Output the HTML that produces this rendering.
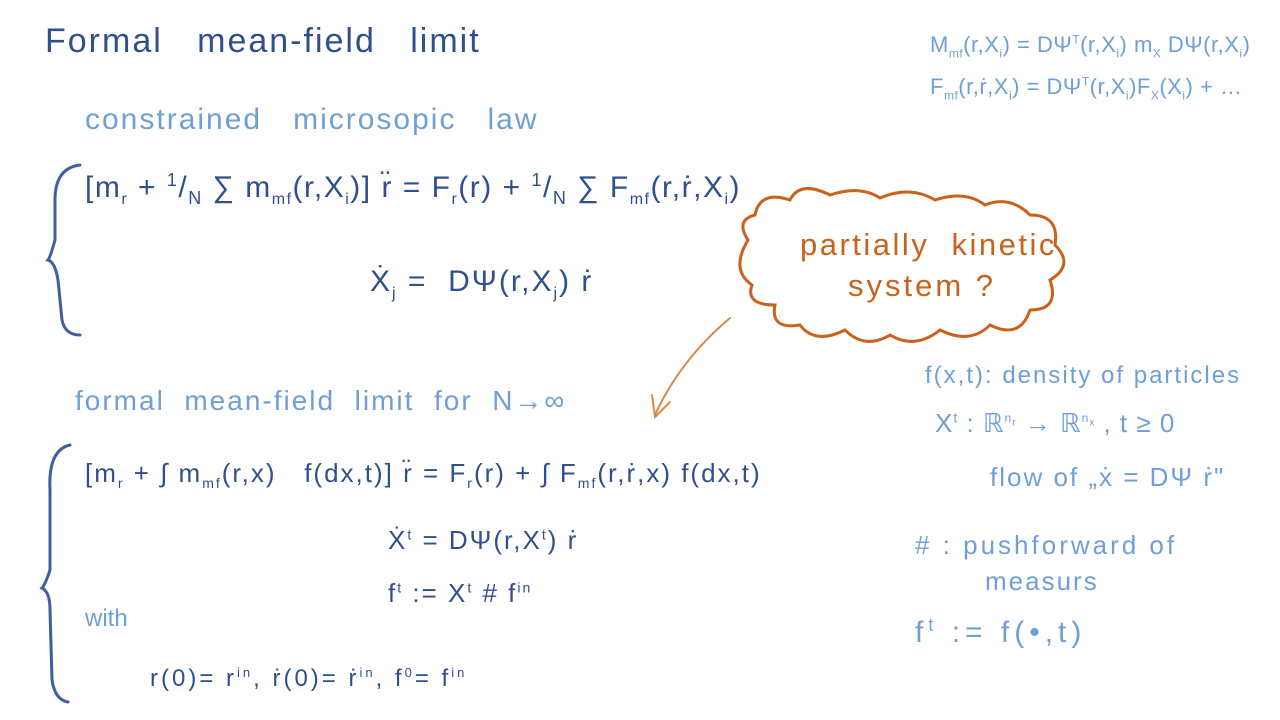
<!DOCTYPE html>
<html><head><meta charset="utf-8">
<style>
body{margin:0;width:1280px;height:720px;background:#fff;position:relative;overflow:hidden;font-family:"Liberation Sans",sans-serif;}
.t{position:absolute;white-space:nowrap;}
.d{color:#2f4f8f;}
.l{color:#6f9fd6;}
.o{color:#c8621c;}
</style></head><body>
<svg width="1280" height="720" style="position:absolute;left:0;top:0">
<g fill="none" stroke-linecap="round">
<path d="M80 165 Q55 168 55 200 L55 240 Q50 258 48 260 Q55 262 58 280 L62 320 Q65 335 80 335" stroke="#3f5f9f" stroke-width="3"/>
<path d="M70 445 Q48 450 50 490 L50 570 Q45 585 42 588 Q50 592 50 610 L52 680 Q55 700 68 702" stroke="#3f5f9f" stroke-width="3"/>
<path d="M748 240 Q735 220 755 215 Q760 190 790 200 Q800 180 830 195 Q860 185 880 198 Q910 185 935 200 Q965 190 985 205 Q1010 195 1030 215 Q1060 215 1055 245 Q1075 265 1050 280 Q1060 310 1030 310 Q1020 340 990 325 Q970 345 940 330 Q915 350 890 335 Q865 350 845 330 Q815 345 800 325 Q770 330 775 305 Q745 305 752 285 Q730 270 748 240 Z" stroke="#c8621c" stroke-width="3"/>
<path d="M730 318 Q680 360 655 415" stroke="#d98a4a" stroke-width="2"/>
<path d="M652 395 L655 417 L670 402" stroke="#d98a4a" stroke-width="2"/>
</g></svg>
<div class="t d" style="left:45px;top:22px;font-size:34px;letter-spacing:2px">Formal &nbsp; mean-field &nbsp; limit</div>
<div class="t l" style="left:930px;top:32px;font-size:22px;letter-spacing:0.5px">M<sub style="font-size:12px">mf</sub>(r,X<sub style="font-size:12px">i</sub>) = DΨ<sup style="font-size:12px">T</sup>(r,X<sub style="font-size:12px">i</sub>) m<sub style="font-size:12px">X</sub> DΨ(r,X<sub style="font-size:12px">i</sub>)</div>
<div class="t l" style="left:930px;top:74px;font-size:22px;letter-spacing:0.5px">F<sub style="font-size:12px">mf</sub>(r,ṙ,X<sub style="font-size:12px">i</sub>) = DΨ<sup style="font-size:12px">T</sup>(r,X<sub style="font-size:12px">i</sub>)F<sub style="font-size:12px">X</sub>(X<sub style="font-size:12px">i</sub>) + …</div>
<div class="t l" style="left:85px;top:103px;font-size:30px;letter-spacing:2px">constrained &nbsp; microsopic &nbsp; law</div>
<div class="t d" style="left:85px;top:170px;font-size:30px;letter-spacing:1.5px">[m<sub style="font-size:16px">r</sub> + <sup style="font-size:18px">1</sup>/<sub style="font-size:18px">N</sub> ∑ m<sub style="font-size:16px">mf</sub>(r,X<sub style="font-size:16px">i</sub>)] r̈ = F<sub style="font-size:16px">r</sub>(r) + <sup style="font-size:18px">1</sup>/<sub style="font-size:18px">N</sub> ∑ F<sub style="font-size:16px">mf</sub>(r,ṙ,X<sub style="font-size:16px">i</sub>)</div>
<div class="t d" style="left:370px;top:265px;font-size:30px;letter-spacing:2px">Ẋ<sub style="font-size:16px">j</sub> = &nbsp;DΨ(r,X<sub style="font-size:16px">j</sub>) ṙ</div>
<div class="t o" style="left:800px;top:227px;font-size:31px;letter-spacing:2.5px">partially &nbsp;kinetic</div>
<div class="t o" style="left:848px;top:268px;font-size:31px;letter-spacing:3px">system ?</div>
<div class="t l" style="left:925px;top:362px;font-size:24px;letter-spacing:2px">f(x,t): density of particles</div>
<div class="t l" style="left:935px;top:408px;font-size:26px;letter-spacing:1px">X<sup style="font-size:14px">t</sup> : ℝ<sup style="font-size:12px">n<sub>r</sub></sup> → ℝ<sup style="font-size:12px">n<sub>x</sub></sup> , t ≥ 0</div>
<div class="t l" style="left:990px;top:462px;font-size:26px;letter-spacing:2px">flow of „ẋ = DΨ ṙ"</div>
<div class="t l" style="left:915px;top:530px;font-size:26px;letter-spacing:3px"># : pushforward of</div>
<div class="t l" style="left:985px;top:566px;font-size:26px;letter-spacing:2px">measurs</div>
<div class="t l" style="left:915px;top:615px;font-size:30px;letter-spacing:5px">f<sup style="font-size:18px">t</sup> := f(•,t)</div>
<div class="t l" style="left:75px;top:385px;font-size:28px;letter-spacing:2px">formal &nbsp;mean-field &nbsp;limit &nbsp;for &nbsp;N→∞</div>
<div class="t d" style="left:85px;top:458px;font-size:26px;letter-spacing:2px">[m<sub style="font-size:14px">r</sub> + ∫ m<sub style="font-size:14px">mf</sub>(r,x) &nbsp; f(dx,t)] r̈ = F<sub style="font-size:14px">r</sub>(r) + ∫ F<sub style="font-size:14px">mf</sub>(r,ṙ,x) f(dx,t)</div>
<div class="t d" style="left:388px;top:525px;font-size:26px;letter-spacing:2px">Ẋ<sup style="font-size:14px">t</sup> = DΨ(r,X<sup style="font-size:14px">t</sup>) ṙ</div>
<div class="t d" style="left:388px;top:578px;font-size:26px;letter-spacing:2px">f<sup style="font-size:14px">t</sup> := X<sup style="font-size:14px">t</sup> # f<sup style="font-size:14px">in</sup></div>
<div class="t l" style="left:85px;top:605px;font-size:24px">with</div>
<div class="t d" style="left:150px;top:665px;font-size:24px;letter-spacing:3px">r(0)= r<sup style="font-size:13px">in</sup>, ṙ(0)= ṙ<sup style="font-size:13px">in</sup>, f<sup style="font-size:13px">0</sup>= f<sup style="font-size:13px">in</sup></div>
</body></html>
